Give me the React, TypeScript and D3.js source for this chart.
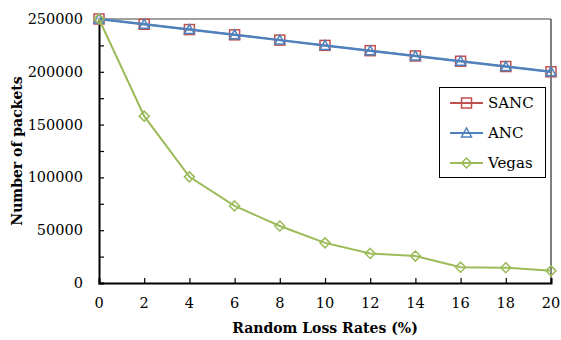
import React, { useRef, useEffect } from 'react';
import * as d3 from 'd3';

const lossRates = [0, 2, 4, 6, 8, 10, 12, 14, 16, 18, 20];
const sanc = [250000, 245000, 240000, 235000, 230000, 225000, 220000, 215000, 210000, 205000, 200000];
const anc = [250000, 245000, 240000, 235000, 230000, 225000, 220000, 215000, 210000, 205000, 200000];
const vegas = [250000, 158000, 100500, 73000, 54000, 38000, 28000, 25500, 15000, 14500, 11500];
const yTicks = [0, 50000, 100000, 150000, 200000, 250000];

const W = 561;
const H = 340;
const font = "'DejaVu Serif'";

const App = () => {
  const ref = useRef<SVGSVGElement>(null);

  useEffect(() => {
    const svg = d3.select(ref.current);
    svg.selectAll('*').remove();

    const margin = { top: 19, right: 10, bottom: 57, left: 99 };
    const x = d3.scaleLinear().domain([0, 20]).range([margin.left, W - margin.right]);
    const y = d3.scaleLinear().domain([0, 250000]).range([H - margin.bottom, margin.top]);

    // frame: gray top, black right
    svg.append('line').attr('x1', x(0)).attr('x2', x(20)).attr('y1', y(250000)).attr('y2', y(250000))
      .attr('stroke', '#808080').attr('stroke-width', 1.5);
    svg.append('line').attr('x1', x(20)).attr('x2', x(20)).attr('y1', y(250000)).attr('y2', y(0))
      .attr('stroke', '#000').attr('stroke-width', 1);

    const yAxis = svg.append('g').attr('transform', `translate(${x(0)},0)`)
      .call(d3.axisLeft(y).tickValues(d3.range(0, 250001, 25000)).tickSize(-5).tickFormat(() => ''));
    yAxis.select('.domain').attr('stroke', '#000').attr('stroke-width', 2);
    yAxis.selectAll('.tick line').attr('stroke', '#000').attr('stroke-width', 1.2);

    const labels = svg.append('g').attr('font-family', font);

    labels.append('g').selectAll('text').data(yTicks).join('text')
      .attr('x', x(0) - 16).attr('y', d => y(d)).attr('dy', '0.35em')
      .attr('text-anchor', 'end').attr('font-size', 14.5).attr('fill', '#000')
      .text(d => d);

    const xAxis = svg.append('g').attr('transform', `translate(0,${y(0)})`)
      .call(d3.axisBottom(x).tickValues(lossRates).tickSize(-5).tickFormat(() => ''));
    xAxis.select('.domain').attr('stroke', '#000').attr('stroke-width', 2);
    xAxis.selectAll('.tick line').attr('stroke', '#000').attr('stroke-width', 1.2);

    labels.append('g').selectAll('text').data(lossRates).join('text')
      .attr('x', d => x(d)).attr('y', y(0) + 25)
      .attr('text-anchor', 'middle').attr('font-size', 14.5).attr('fill', '#000')
      .text(d => d);

    labels.append('text').attr('x', (x(0) + x(20)) / 2).attr('y', 333)
      .attr('text-anchor', 'middle').attr('font-size', 14).attr('font-weight', 'bold')
      .text('Random Loss Rates (%)');
    labels.append('text').attr('transform', `translate(22,${(y(0) + y(250000)) / 2}) rotate(-90)`)
      .attr('text-anchor', 'middle').attr('font-size', 14).attr('font-weight', 'bold')
      .text('Number of packets');

    const line = d3.line<number>().x((_, i) => x(lossRates[i])).y(d => y(d));

    const series = [
      { name: 'SANC', values: sanc, color: '#C0504D', marker: 'square', width: 1.5 },
      { name: 'ANC', values: anc, color: '#4F81BD', marker: 'triangle', width: 2.5 },
      { name: 'Vegas', values: vegas, color: '#9BBB59', marker: 'diamond', width: 2 },
    ];

    const drawMarker = (g: any, type: string, cx: number, cy: number, color: string) => {
      if (type === 'square') {
        g.append('rect').attr('x', cx - 5).attr('y', cy - 5).attr('width', 10).attr('height', 10)
          .attr('fill', 'none').attr('stroke', color).attr('stroke-width', 1.5);
      } else if (type === 'triangle') {
        g.append('path').attr('d', `M${cx},${cy - 5}L${cx + 5},${cy + 4}L${cx - 5},${cy + 4}Z`)
          .attr('fill', 'none').attr('stroke', color).attr('stroke-width', 1.5);
      } else {
        g.append('path').attr('d', `M${cx},${cy - 5}L${cx + 5},${cy}L${cx},${cy + 5}L${cx - 5},${cy}Z`)
          .attr('fill', 'none').attr('stroke', color).attr('stroke-width', 1.5);
      }
    };

    series.forEach(s => {
      svg.append('path').datum(s.values).attr('fill', 'none').attr('stroke', s.color)
        .attr('stroke-width', s.width).attr('d', line);
      const g = svg.append('g');
      s.values.forEach((v, i) => drawMarker(g, s.marker, x(lossRates[i]), y(v), s.color));
    });

    // legend
    const legend = svg.append('g').attr('font-family', font);
    legend.append('rect').attr('x', 439.5).attr('y', 87.5).attr('width', 106).attr('height', 90)
      .attr('fill', '#fff').attr('stroke', '#000').attr('stroke-width', 1);
    series.forEach((s, i) => {
      const ly = 103 + i * 30;
      legend.append('line').attr('x1', 450).attr('x2', 483).attr('y1', ly).attr('y2', ly)
        .attr('stroke', s.color).attr('stroke-width', 2);
      const mg = legend.append('g');
      drawMarker(mg, s.marker, 466.5, ly, s.color);
      legend.append('text').attr('x', 488).attr('y', ly).attr('dy', '0.35em')
        .attr('font-size', 15).attr('fill', '#000').text(s.name);
    });
  }, []);

  return <svg ref={ref} width={W} height={H} style={{ position: 'absolute', left: 0, top: 0, background: '#fff' }}></svg>;
};

export default App;
